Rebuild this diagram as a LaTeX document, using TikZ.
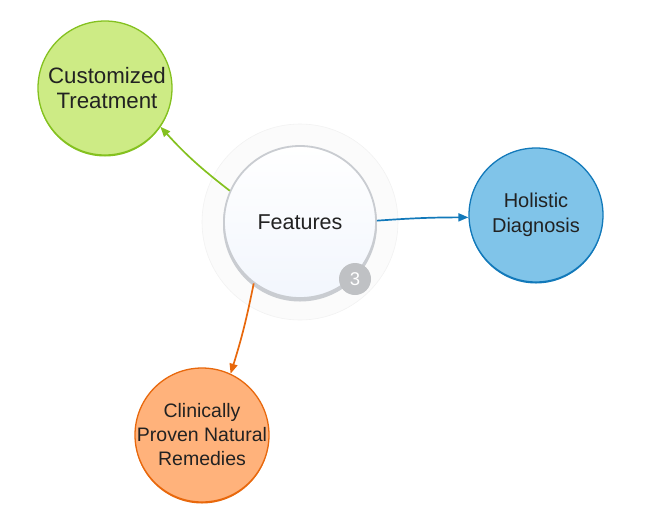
\documentclass[tikz,border=0pt]{standalone}
\usepackage{fontspec}
\setmainfont{Liberation Sans}
\usetikzlibrary{arrows.meta}
\definecolor{gfill}{HTML}{CDEB85}
\definecolor{gline}{HTML}{84C11F}
\definecolor{bfill}{HTML}{80C4E9}
\definecolor{bline}{HTML}{1279BA}
\definecolor{ofill}{HTML}{FFB27B}
\definecolor{oline}{HTML}{E8680C}
\definecolor{halo}{HTML}{FBFBFB}
\definecolor{haloedge}{HTML}{F2F2F2}
\definecolor{cline}{HTML}{C9CCD1}
\definecolor{cbot}{HTML}{F2F6FD}
\definecolor{badge}{HTML}{BFC1C4}
\definecolor{txt}{HTML}{222222}
\tikzset{
  topic/.style={circle, minimum size=134pt, inner sep=0pt, line width=1.3pt},
  topictext/.style={align=center, inner sep=0pt, text=txt},
  centerbox/.style={circle, minimum size=152pt, inner sep=0pt, align=center,
    draw=cline, line width=1.8pt, top color=white, bottom color=cbot, text=txt,
    font=\fontsize{21.5}{25.5}\selectfont},
  badgebox/.style={circle, fill=badge, minimum size=32pt, inner sep=0pt,
    text=white, font=\fontsize{18.5}{20}\selectfont},
  link/.style={line width=1.7pt, -{Triangle[length=10pt,width=8pt]}},
}
\begin{document}
\begin{tikzpicture}[x=1pt,y=-1pt]
\useasboundingbox (0,0) rectangle (645,515);
\filldraw[fill=halo, draw=haloedge, line width=0.6pt] (300,222) circle (98);
% shadows
\fill[cline] (300,224.5) circle (77);
\fill[gline] (105,89.5) circle (67);
\fill[bline] (536,216.5) circle (67);
\fill[oline] (202,436.5) circle (67);
\node[centerbox] (f) at (300,222) {Features};
\node[topic, fill=gfill, draw=gline] (g) at (105,88) {};
\node[topic, fill=bfill, draw=bline] (b) at (536,215) {};
\node[topic, fill=ofill, draw=oline] (o) at (202,435) {};
\node[topictext, font=\fontsize{22.3}{25.7}\selectfont] (gt) at ([xshift=2pt]g.center) {Customized\\Treatment};
\node[topictext, font=\fontsize{20}{25}\selectfont] (bt) at (b.center) {Holistic\\Diagnosis};
\node[topictext, font=\fontsize{19.5}{24}\selectfont] (ot) at (o.center) {Clinically\\Proven Natural\\Remedies};
\node[badgebox] (n) at (355,279) {3};
\draw[link, gline] (f.156) to[bend left=5] (g.325);
\draw[link, bline] (f.1) to[bend left=2] (b.182);
\draw[link, oline] (f.233) to[bend left=3] (o.65);
\end{tikzpicture}
\end{document}
